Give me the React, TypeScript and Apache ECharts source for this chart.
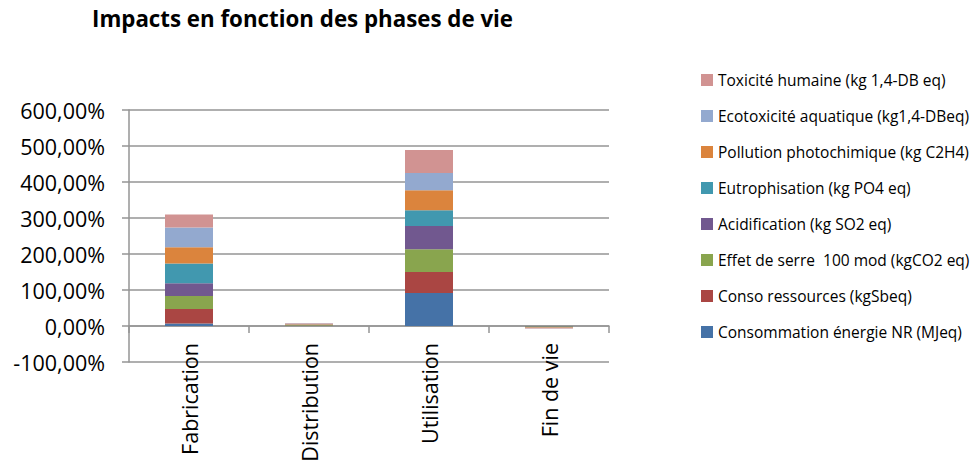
import React, { useEffect, useRef } from "react";
import * as echarts from "echarts";

const categories = ["Fabrication", "Distribution", "Utilisation", "Fin de vie"];

const seriesNames = [
  "Consommation énergie NR (MJeq)",
  "Conso ressources (kgSbeq)",
  "Effet de serre  100 mod (kgCO2 eq)",
  "Acidification (kg SO2 eq)",
  "Eutrophisation (kg PO4 eq)",
  "Pollution photochimique (kg C2H4)",
  "Ecotoxicité aquatique (kg1,4-DBeq)",
  "Toxicité humaine (kg 1,4-DB eq)",
];

const consoEnergie = [6.7, 0.8, 91.8, -0.5];
const consoRessources = [40.6, 0.6, 58.4, -0.5];
const effetSerre = [36.2, 1.2, 63.1, -1.0];
const acidification = [35.3, 0.6, 64.8, -0.5];
const eutrophisation = [54.8, 0.8, 43.7, -0.5];
const pollutionPhoto = [45.3, 1.8, 55.6, -2.0];
const ecotoxicite = [54.8, 0.8, 47.3, -1.0];
const toxiciteHumaine = [36.2, 1.4, 64.0, -1.5];

const seriesValues = [
  consoEnergie,
  consoRessources,
  effetSerre,
  acidification,
  eutrophisation,
  pollutionPhoto,
  ecotoxicite,
  toxiciteHumaine,
];

const colors = [
  "#4572A7",
  "#AA4643",
  "#89A54E",
  "#71588F",
  "#4198AF",
  "#DB843D",
  "#93A9CF",
  "#D19392",
];

const yMin = -100;
const yMax = 600;
const yInterval = 100;

const FONT = "Open Sans";

export default function App() {
  const ref = useRef<HTMLDivElement>(null);

  useEffect(() => {
    if (!ref.current) return;
    const chart = echarts.init(ref.current, null, { renderer: "svg" });
    chart.setOption({
      animation: false,
      backgroundColor: "#ffffff",
      color: colors,
      title: {
        text: "Impacts en fonction des phases de vie",
        left: 87,
        top: 2,
        textStyle: {
          fontFamily: FONT,
          fontWeight: "bold",
          fontSize: 22.3,
          color: "#000000",
        },
      },
      legend: {
        orient: "vertical",
        left: 696,
        top: 67,
        itemWidth: 12,
        itemHeight: 12,
        itemGap: 20,
        icon: "rect",
        data: [...seriesNames].reverse(),
        textStyle: {
          fontFamily: FONT,
          fontSize: 15.5,
          color: "#000000",
        },
      },
      grid: {
        left: 129,
        right: 365,
        top: 110,
        bottom: 106,
        containLabel: false,
        outerBoundsMode: "none",
      },
      xAxis: {
        type: "category",
        data: categories,
        axisLine: {
          onZero: true,
          lineStyle: { color: "#959595", width: 1.5 },
        },
        axisTick: {
          show: true,
          length: 7,
          lineStyle: { color: "#959595", width: 1.5 },
        },
        axisLabel: {
          rotate: 90,
          margin: -19,
          fontFamily: FONT,
          fontSize: 21.5,
          color: "#000000",
        },
      },
      yAxis: {
        type: "value",
        min: yMin,
        max: yMax,
        interval: yInterval,
        axisLine: {
          show: true,
          lineStyle: { color: "#959595", width: 1.5 },
        },
        axisTick: {
          show: true,
          length: 7,
          lineStyle: { color: "#959595", width: 1.5 },
        },
        splitLine: {
          show: true,
          lineStyle: { color: "#959595", width: 1.5 },
        },
        axisLabel: {
          margin: 24,
          fontFamily: FONT,
          fontSize: 21.5,
          color: "#000000",
          formatter: (v: number) => `${v},00%`,
        },
      },
      series: seriesNames.map((name, i) => ({
        name,
        type: "bar",
        stack: "total",
        barWidth: "40%",
        data: seriesValues[i],
        itemStyle: { color: colors[i] },
      })),
    });
    return () => chart.dispose();
  }, []);

  return (
    <div
      ref={ref}
      style={{
        position: "fixed",
        left: 0,
        top: 0,
        width: 974,
        height: 468,
      }}
    />
  );
}
